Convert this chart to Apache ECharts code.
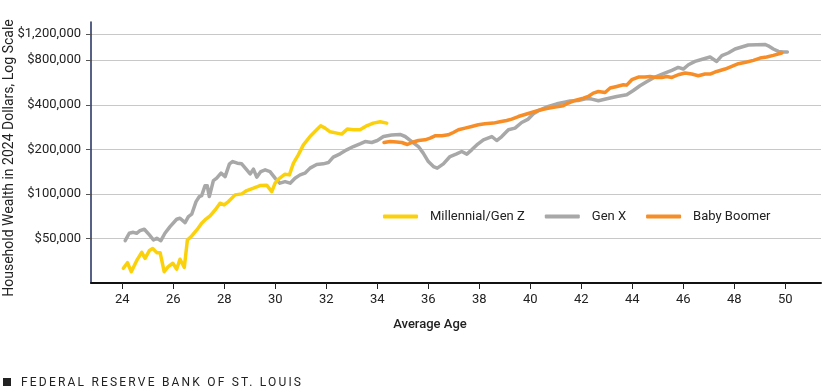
<!DOCTYPE html>
<html>
<head>
<meta charset="utf-8">
<script src="https://cdn.jsdelivr.net/npm/echarts@6/dist/echarts.min.js"></script>
<style>
html,body{margin:0;padding:0;background:#fff;}
#chart{width:825px;height:392px;position:absolute;left:0;top:0;}
#footer{position:absolute;left:3px;top:375px;font-family:Roboto,'Noto Sans',sans-serif;font-size:12px;letter-spacing:2.2px;color:#222;white-space:nowrap;line-height:14px;}
#footer .sq{display:inline-block;width:8px;height:8px;background:#222;margin-right:10px;vertical-align:0px;}
</style>
</head>
<body>
<div id="chart"></div>
<div id="footer"><span class="sq"></span>FEDERAL RESERVE BANK OF ST. LOUIS</div>
<script>
const seriesNames = ['Millennial/Gen Z', 'Gen X', 'Baby Boomer'];
const xTicks = [24, 26, 28, 30, 32, 34, 36, 38, 40, 42, 44, 46, 48, 50];
const yTicks = [50000, 100000, 200000, 400000, 800000, 1200000];

const millAge = [24.04,24.20,24.35,24.56,24.76,24.89,25.06,25.19,25.35,25.48,25.64,25.80,25.98,26.13,26.26,26.43,26.55,26.72,26.92,27.11,27.24,27.44,27.64,27.83,27.99,28.16,28.42,28.68,28.88,29.14,29.40,29.66,29.86,29.99,30.12,30.38,30.55,30.71,30.90,31.10,31.36,31.62,31.78,31.95,32.15,32.41,32.60,32.82,33.06,33.32,33.58,33.84,34.11,34.37];
const millWealth = [31400,34300,29800,35400,40300,36700,41400,42700,40100,40100,29800,32200,34000,31000,36200,31900,48800,52000,57100,63400,66700,71000,77900,86500,84300,88700,98500,100000,105300,109300,113800,114500,103600,118100,125700,135900,134400,161300,183600,214300,244200,271000,288400,278200,262700,257400,253500,274000,271000,271000,288400,300800,307000,300800];

const genxAge = [24.11,24.27,24.43,24.56,24.69,24.86,25.06,25.22,25.35,25.51,25.67,25.87,26.13,26.26,26.46,26.59,26.72,26.89,27.02,27.11,27.24,27.33,27.41,27.57,27.70,27.87,28.03,28.20,28.33,28.51,28.68,28.88,29.01,29.14,29.27,29.43,29.60,29.79,29.99,30.18,30.38,30.58,30.77,30.97,31.16,31.36,31.62,31.88,32.08,32.27,32.54,32.80,33.06,33.32,33.52,33.78,34.00,34.24,34.56,34.89,35.09,35.35,35.61,35.80,36.00,36.20,36.35,36.59,36.85,37.11,37.31,37.51,37.70,37.90,38.16,38.49,38.68,38.88,39.14,39.40,39.66,39.92,40.12,40.38,40.71,41.04,41.29,41.56,41.88,42.21,42.41,42.67,43.00,43.39,43.78,44.04,44.30,44.56,44.89,45.22,45.55,45.80,46.00,46.20,46.46,46.78,47.05,47.31,47.51,47.76,48.03,48.29,48.55,48.88,49.20,49.33,49.53,49.73,49.92,50.08];
const genxWealth = [48300,54200,55000,54200,56400,57700,52800,48800,50100,48300,54200,60100,67400,68500,63900,70200,72900,88700,95900,97400,113300,113300,95900,123000,127700,138000,130900,159600,165400,161300,159600,145300,136500,146900,129700,141500,145300,141500,127700,118100,121100,118100,127700,134400,138000,149300,157800,159600,162800,177100,186500,198500,208900,218000,225800,222400,229400,244200,249600,252000,244200,225800,208900,188500,165400,153000,149300,159600,178800,186500,193300,185600,198500,214300,231800,244200,229400,244200,271000,278200,303600,320200,347800,370200,389600,406200,414600,423700,427600,441100,437000,425500,439100,455300,467500,499400,537700,572400,615700,648500,682500,715200,697500,746000,785200,815100,840800,785200,858300,895100,952800,983000,1014000,1018000,1023000,1002000,952800,918000,909000,909000];

const boomAge = [34.26,34.50,34.76,34.96,35.18,35.35,35.61,35.87,36.07,36.26,36.53,36.78,36.98,37.18,37.44,37.70,37.96,38.22,38.55,38.81,39.07,39.27,39.53,39.79,40.05,40.31,40.64,40.97,41.29,41.49,41.75,42.08,42.27,42.47,42.67,42.93,43.13,43.39,43.65,43.78,43.98,44.24,44.50,44.69,44.96,45.15,45.35,45.55,45.80,46.07,46.33,46.59,46.85,47.05,47.31,47.64,47.90,48.16,48.49,48.75,49.01,49.27,49.53,49.86];
const boomWealth = [222400,225800,223800,222400,215600,222400,229400,231800,238200,246800,246800,250700,259900,271000,278200,285200,293000,297500,300800,307000,313200,320200,333300,343900,354800,366000,377600,385900,394000,410800,427600,444000,455300,479800,492100,484300,518900,532000,546100,543000,590500,615700,615700,621500,611900,611900,621500,611900,638300,655300,645300,628600,645300,645300,671900,697500,726500,757400,778100,797800,827800,840800,862700,895100];

const colors = ['#FBD10B', '#A8A8A8', '#F68D26'];
const FONT = 'Roboto, "Noto Sans", sans-serif';

function pairs(a, b) { return a.map((v, i) => [v, b[i]]); }

const chart = echarts.init(document.getElementById('chart'), null, {renderer: 'canvas'});
chart.setOption({
  animation: false,
  backgroundColor: '#fff',
  grid: {left: 91, right: 4, top: 22, bottom: 109, containLabel: false},
  legend: {
    data: seriesNames,
    left: 383, top: 210, padding: 0,
    itemWidth: 35, itemHeight: 4, itemGap: 20,
    icon: 'roundRect',
    textStyle: {fontFamily: FONT, fontSize: 13, color: '#222', padding: [0, 0, 0, 7]}
  },
  xAxis: {
    type: 'value', min: 22.77, max: 51.4,
    axisLine: {show: true, lineStyle: {color: '#111', width: 2}},
    axisTick: {show: true, length: 6, lineStyle: {color: '#222', width: 1}, customValues: xTicks},
    axisLabel: {customValues: xTicks, fontFamily: FONT, fontSize: 13, color: '#222', margin: 10},
    splitLine: {show: false}
  },
  yAxis: {
    type: 'log', logBase: 10, min: 25000, max: 1450000,
    axisLine: {show: true, lineStyle: {color: '#1E2C5C', width: 1.5}},
    axisTick: {show: true, length: 5, lineStyle: {color: '#555'}, customValues: yTicks},
    axisLabel: {customValues: yTicks, fontFamily: FONT, fontSize: 13, color: '#222', margin: 10,
      formatter: v => '$' + Number(v).toLocaleString('en-US')},
    splitLine: {show: true, lineStyle: {color: '#C8C8C8', width: 1}}
  },
  graphic: [
    {type: 'text', x: 9, y: 158, rotation: Math.PI / 2,
     style: {text: 'Household Wealth in 2024 Dollars, Log Scale', fill: '#222', font: '14px ' + FONT, textAlign: 'center', textVerticalAlign: 'middle'}},
    {type: 'text', x: 430, y: 325,
     style: {text: 'Average Age', fill: '#222', font: '500 13px ' + FONT, textAlign: 'center', textVerticalAlign: 'middle'}}
  ],
  series: [
    {name: seriesNames[0], type: 'line', data: pairs(millAge, millWealth), showSymbol: false, symbol: 'none', z: 4,
     lineStyle: {color: colors[0], width: 3.5, join: 'round', cap: 'round'}, itemStyle: {color: colors[0]}},
    {name: seriesNames[1], type: 'line', data: pairs(genxAge, genxWealth), showSymbol: false, symbol: 'none', z: 2,
     lineStyle: {color: colors[1], width: 3.5, join: 'round', cap: 'round'}, itemStyle: {color: colors[1]}},
    {name: seriesNames[2], type: 'line', data: pairs(boomAge, boomWealth), showSymbol: false, symbol: 'none', z: 3,
     lineStyle: {color: colors[2], width: 3.5, join: 'round', cap: 'round'}, itemStyle: {color: colors[2]}}
  ]
});
</script>
</body>
</html>
